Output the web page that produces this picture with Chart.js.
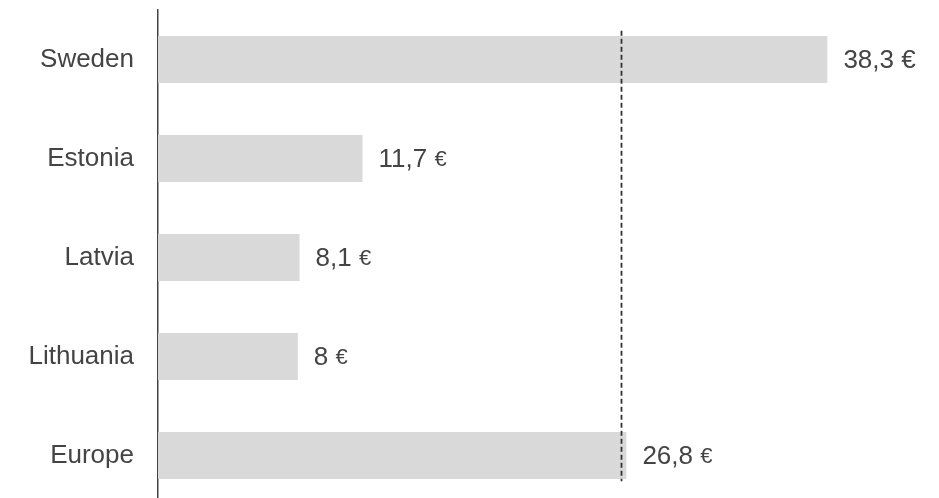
<!DOCTYPE html>
<html>
<head>
<meta charset="utf-8">
<script src="https://cdn.jsdelivr.net/npm/chart.js@4"></script>
<style>
  html, body { margin: 0; padding: 0; background: #fff; overflow: hidden; }
  #wrap { position: relative; width: 939px; height: 505px; }
</style>
</head>
<body>
<div id="wrap"><canvas id="costChart"></canvas></div>
<script>
// Cost per country
const countries = ['Sweden', 'Estonia', 'Latvia', 'Lithuania', 'Europe'];
const costs = [38.3, 11.7, 8.1, 8, 26.8];
const referenceCost = 26.5;

const textColor = '#444444';
const labelFont = '"Liberation Sans", Arial, sans-serif';

// writes "38,3 €" at the end of every bar
const valueLabels = {
  id: 'valueLabels',
  afterDatasetsDraw(chart) {
    const ctx = chart.ctx;
    const meta = chart.getDatasetMeta(0);
    ctx.save();
    ctx.fillStyle = textColor;
    ctx.textBaseline = 'middle';
    ctx.textAlign = 'left';
    meta.data.forEach((bar, i) => {
      const num = String(costs[i]).replace('.', ',') + ' ';
      let x = bar.x + 16;
      ctx.font = '26px ' + labelFont;
      ctx.fillText(num, x, bar.y + 1);
      x += ctx.measureText(num).width;
      ctx.font = (i === 0 ? 26 : 22) + 'px ' + labelFont;
      ctx.fillText('€', x, bar.y + 1);
    });
    ctx.restore();
  }
};

// dashed reference line
const refLine = {
  id: 'refLine',
  afterDatasetsDraw(chart) {
    const { ctx, scales: { x, y } } = chart;
    const px = Math.round(x.getPixelForValue(referenceCost)) + 0.5;
    ctx.save();
    ctx.strokeStyle = '#333333';
    ctx.lineWidth = 1.8;
    ctx.setLineDash([5, 3]);
    ctx.beginPath();
    ctx.moveTo(px, y.getPixelForValue(-0.29));
    ctx.lineTo(px, y.getPixelForValue(4.26));
    ctx.stroke();
    ctx.restore();
  }
};

new Chart(document.getElementById('costChart'), {
  type: 'bar',
  data: {
    labels: countries,
    datasets: [{
      data: costs,
      backgroundColor: '#d9d9d9',
      borderWidth: 0,
      categoryPercentage: 1,
      barPercentage: 0.475
    }]
  },
  options: {
    indexAxis: 'y',
    responsive: true,
    maintainAspectRatio: false,
    animation: false,
    layout: { padding: { top: 10, right: 12, bottom: 0, left: 0 } },
    plugins: {
      legend: { display: false },
      tooltip: { enabled: false }
    },
    scales: {
      x: {
        display: false,
        min: 0,
        max: 44
      },
      y: {
        afterFit(scale) {
          scale.width = 158;
          scale.paddingTop = 0;
          scale.paddingBottom = 0;
        },
        grid: { display: false, drawTicks: false },
        border: { display: true, color: '#444444', width: 1.5 },
        ticks: {
          padding: 24,
          color: textColor,
          font: { family: labelFont, size: 26 }
        }
      }
    }
  },
  plugins: [valueLabels, refLine]
});
</script>
</body>
</html>
